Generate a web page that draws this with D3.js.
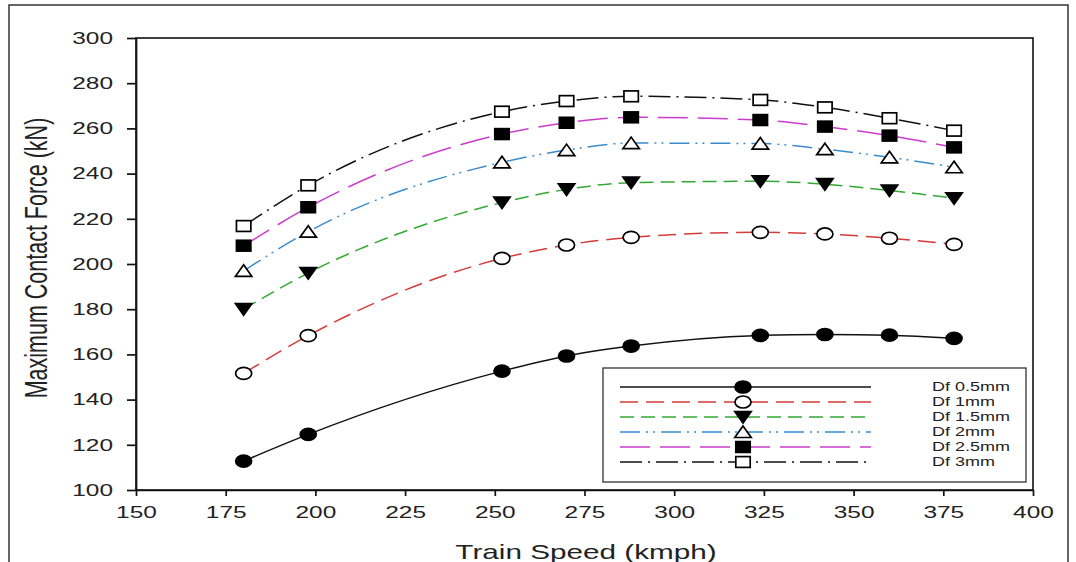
<!DOCTYPE html>
<html>
<head>
<meta charset="utf-8">
<script src="https://cdnjs.cloudflare.com/ajax/libs/d3/7.8.5/d3.min.js"></script>
<style>
  body { margin: 0; background: #fff; }
  svg { display: block; font-family: "Liberation Sans", Arial, sans-serif; }
  .axis path, .axis line { stroke: #111; stroke-width: 1.7; }
  .axis text { font-size: 16.3px; fill: #222; }
</style>
</head>
<body>
<svg width="1076" height="562"></svg>
<script>
// speeds (kmph)
var speeds = [180, 198, 252, 270, 288, 324, 342, 360, 378];

// maximum contact force (kN) for each flat depth
var df05 = [112.8, 124.6, 152.6, 159.3, 163.7, 168.4, 168.8, 168.5, 167.1];
var df1  = [151.6, 168.3, 202.5, 208.4, 211.8, 214.0, 213.3, 211.4, 208.7];
var df15 = [180.0, 196.0, 227.2, 233.0, 236.0, 236.6, 235.3, 232.5, 229.1];
var df2  = [197.0, 214.3, 245.0, 250.4, 253.5, 253.3, 250.8, 247.2, 242.8];
var df25 = [208.1, 225.1, 257.5, 262.5, 264.9, 263.7, 260.8, 256.8, 251.6];
var df3  = [216.8, 234.8, 267.4, 272.1, 274.2, 272.6, 269.3, 264.5, 259.0];

var seriesNames = ["Df 0.5mm", "Df 1mm", "Df 1.5mm", "Df 2mm", "Df 2.5mm", "Df 3mm"];

var xTicks = [150, 175, 200, 225, 250, 275, 300, 325, 350, 375, 400];
var yTicks = [100, 120, 140, 160, 180, 200, 220, 240, 260, 280, 300];

// the picture is stretched sideways, text follows that
var stretch = 1.5;

var svg = d3.select("svg"),
    margin = {top: 38, right: 43, bottom: 72, left: 136},
    width = +svg.attr("width") - margin.left - margin.right,
    height = +svg.attr("height") - margin.top - margin.bottom;

var x = d3.scaleLinear().domain([150, 400]).range([0, width]),
    y = d3.scaleLinear().domain([100, 300]).range([height, 0]);

var styles = [
  {color: "#111111", dash: null,               marker: "circle",   fill: "#000"},
  {color: "#d63a3a", dash: "18,8",             marker: "circle",   fill: "#fff"},
  {color: "#33a833", dash: "14,7",             marker: "triDown",  fill: "#000"},
  {color: "#3a8ccc", dash: "20,6,2,5,2,6",     marker: "triUp",    fill: "#fff"},
  {color: "#cc3ccc", dash: "30,10",            marker: "square",   fill: "#000"},
  {color: "#111111", dash: "22,6,2,6",         marker: "square",   fill: "#fff"}
];

var allSeries = [df05, df1, df15, df2, df25, df3].map(function(vals, i) {
  return {name: seriesNames[i], style: styles[i],
          points: vals.map(function(v, j) { return {x: speeds[j], y: v}; })};
});

// outer frame
svg.append("path")
    .attr("d", "M9,562V5H1068V562")
    .attr("fill", "none")
    .attr("stroke", "#333")
    .attr("stroke-width", 1.5);

var g = svg.append("g")
    .attr("transform", "translate(" + margin.left + "," + margin.top + ")");

// plot box
g.append("rect")
    .attr("width", width)
    .attr("height", height)
    .attr("fill", "none")
    .attr("stroke", "#111")
    .attr("stroke-width", 1.6);

var xAxis = d3.axisBottom(x).tickValues(xTicks).tickSize(6).tickSizeOuter(0),
    yAxis = d3.axisLeft(y).tickValues(yTicks).tickSize(9).tickSizeOuter(0);

var gx = g.append("g")
    .attr("class", "axis")
    .attr("transform", "translate(0," + height + ")")
    .call(xAxis);
gx.selectAll("text")
    .attr("y", 16.5)
    .attr("transform", "scale(" + stretch + ",1)");

var gy = g.append("g")
    .attr("class", "axis")
    .call(yAxis);
gy.selectAll("text")
    .attr("x", -23 / stretch)
    .attr("transform", "scale(" + stretch + ",1)");

// axis titles
svg.append("text")
    .attr("transform", "translate(586,559) scale(" + stretch + ",1)")
    .attr("text-anchor", "middle")
    .attr("font-size", 19.8)
    .attr("fill", "#222")
    .text("Train Speed (kmph)");

svg.append("text")
    .attr("transform", "translate(47,258) scale(" + stretch + ",1) rotate(-90)")
    .attr("text-anchor", "middle")
    .attr("font-size", 21.5)
    .attr("fill", "#222")
    .text("Maximum Contact Force (kN)");

var line = d3.line()
    .x(function(d) { return x(d.x); })
    .y(function(d) { return y(d.y); })
    .curve(d3.curveMonotoneX);

function drawMarker(sel, kind, fill) {
  if (kind === "circle") {
    sel.append("ellipse").attr("rx", 8).attr("ry", 6);
  } else if (kind === "square") {
    sel.append("rect").attr("x", -7.2).attr("y", -5.4).attr("width", 14.4).attr("height", 10.8);
  } else if (kind === "triUp") {
    sel.append("path").attr("d", "M-8.2,5.5L8.2,5.5L0,-6Z");
  } else if (kind === "triDown") {
    sel.append("path").attr("d", "M-8.2,-5.5L8.2,-5.5L0,6Z");
  }
  sel.selectAll("*")
      .attr("fill", fill)
      .attr("stroke", "#000")
      .attr("stroke-width", 1.7);
}

var series = g.selectAll(".series")
    .data(allSeries)
    .enter().append("g")
    .attr("class", "series");

series.append("path")
    .attr("d", function(d) { return line(d.points); })
    .attr("fill", "none")
    .attr("stroke", function(d) { return d.style.color; })
    .attr("stroke-width", 1.5)
    .attr("stroke-dasharray", function(d) { return d.style.dash; });

series.each(function(s) {
  d3.select(this).selectAll(".pt")
      .data(s.points)
      .enter().append("g")
      .attr("class", "pt")
      .attr("transform", function(d) { return "translate(" + x(d.x) + "," + y(d.y) + ")"; })
      .each(function() { drawMarker(d3.select(this), s.style.marker, s.style.fill); });
});

// legend
var legend = svg.append("g").attr("transform", "translate(603,368)");
legend.append("rect")
    .attr("width", 423)
    .attr("height", 114)
    .attr("fill", "#fff")
    .attr("stroke", "#333")
    .attr("stroke-width", 1.3);

var rows = legend.selectAll(".row")
    .data(allSeries)
    .enter().append("g")
    .attr("class", "row")
    .attr("transform", function(d, i) { return "translate(0," + (19 + i * 15) + ")"; });

rows.append("line")
    .attr("x1", 17)
    .attr("x2", 268)
    .attr("stroke", function(d) { return d.style.color; })
    .attr("stroke-width", 1.5)
    .attr("stroke-dasharray", function(d) { return d.style.dash; });

rows.append("g")
    .attr("transform", "translate(140,0)")
    .each(function(d) { drawMarker(d3.select(this), d.style.marker, d.style.fill); });

rows.append("text")
    .attr("transform", "translate(329,4.4) scale(" + stretch + ",1)")
    .attr("font-size", 12)
    .attr("fill", "#222")
    .text(function(d) { return d.name; });
</script>
</body>
</html>
